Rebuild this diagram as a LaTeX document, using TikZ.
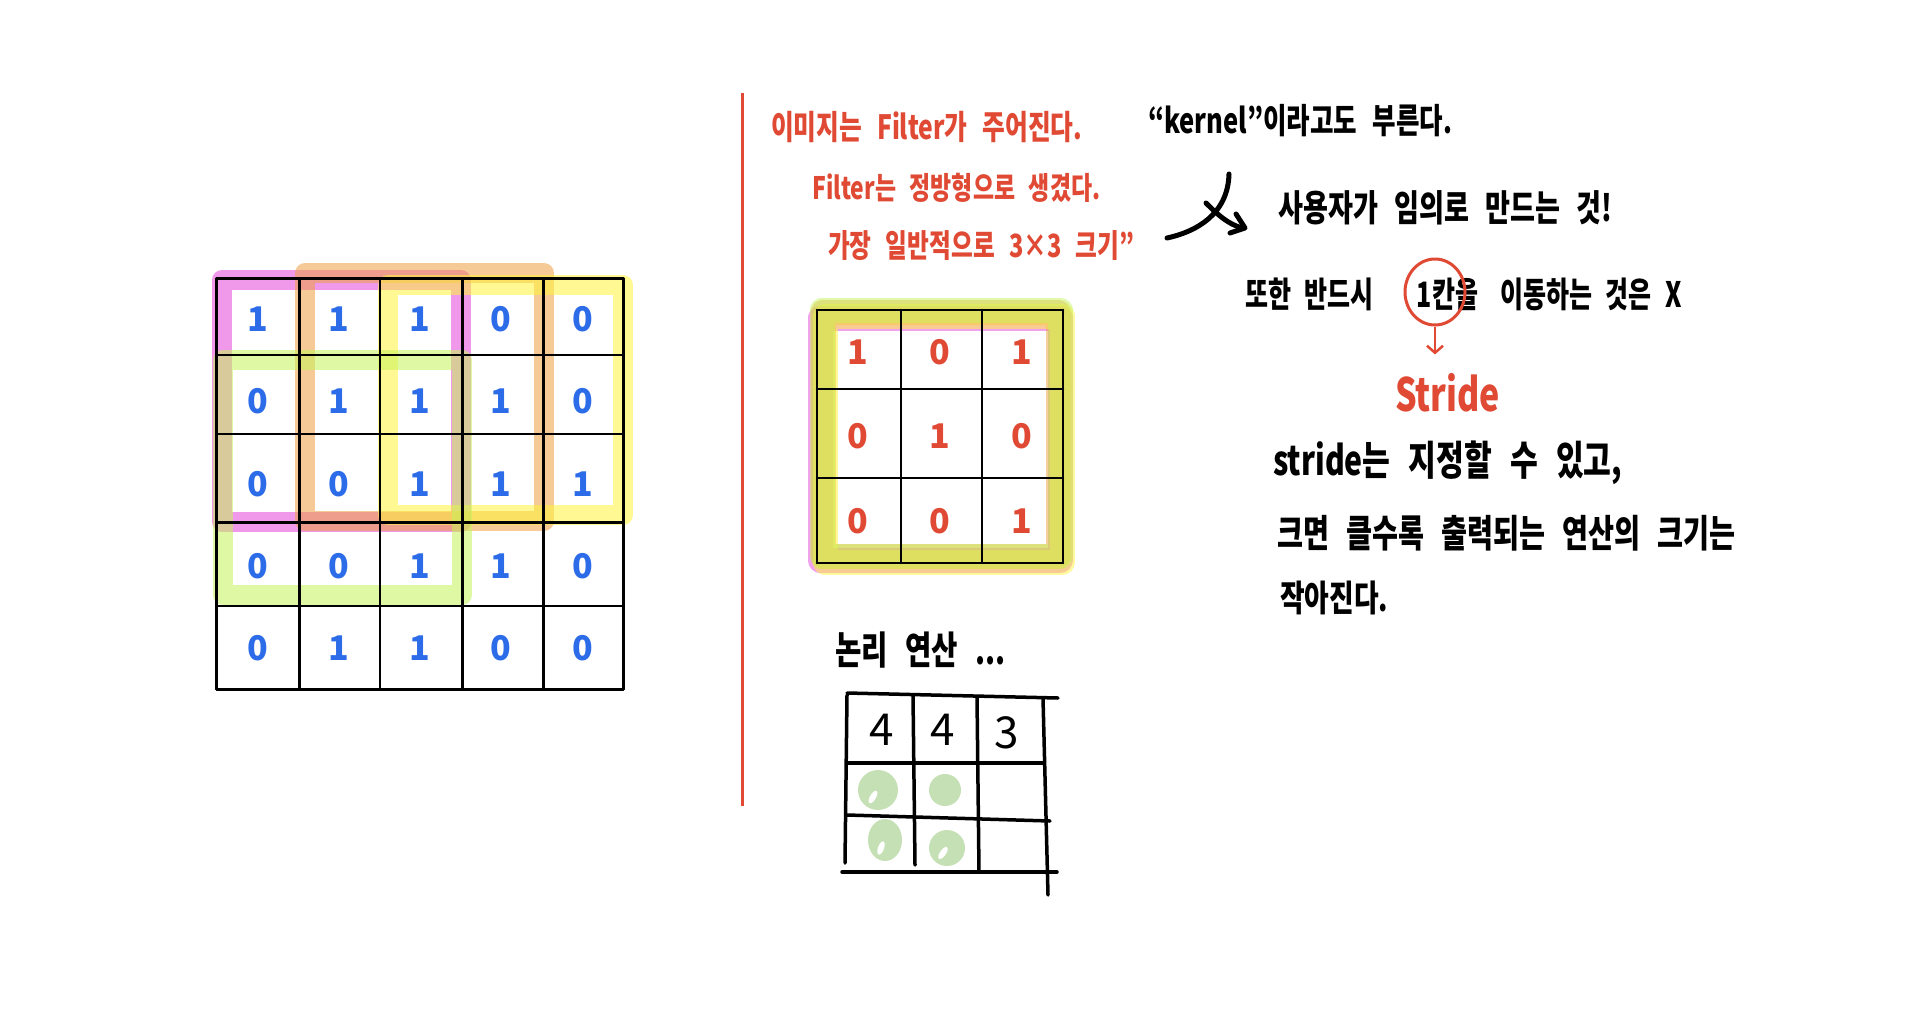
\documentclass[tikz,border=0pt]{standalone}
\usepackage{fontspec}
\usetikzlibrary{arrows.meta,shapes.geometric,calc}
\newfontfamily\kr{Noto Sans CJK KR}
\definecolor{redD}{RGB}{224,74,52}
\definecolor{blueD}{RGB}{45,108,232}
\definecolor{hlmag}{RGB}{228,70,218}
\definecolor{hlora}{RGB}{238,160,64}
\definecolor{hlyel}{RGB}{255,244,60}
\definecolor{hlgrn}{RGB}{198,244,90}
\definecolor{gblob}{RGB}{197,224,180}
\newcommand\fitw[2]{\resizebox{#1pt}{!}{\scalebox{1}[1.35]{#2}}}
\newcommand\tall[1]{\scalebox{1}[1.4]{#1}}
\begin{document}
\begin{tikzpicture}[x=1pt,y=-1pt,
  hl/.style={line width=20pt,line cap=round,line join=round,opacity=.55},
  fhl/.style={line width=25pt,line cap=round,line join=round,opacity=.5},
  gline/.style={line width=2.6pt,black,line cap=round},
  rline/.style={line width=3.5pt,black,line cap=round},
  txtbase/.style={inner sep=0pt,anchor=west,font={\kr\bfseries\spaceskip=.6em\relax}},
  redtxt/.style={txtbase,text=redD},
  blktxt/.style={txtbase,text=black},
  blkfour/.style={inner sep=0pt,text=black,font={\kr\bfseries\fontsize{25}{25}\selectfont\spaceskip=.55em\relax}},
  bdig/.style={inner sep=0pt,text=blueD,font={\kr\bfseries\fontsize{34}{34}\selectfont}},
  rdig/.style={inner sep=0pt,text=redD,font={\kr\bfseries\fontsize{34}{34}\selectfont}},
  kdig/.style={inner sep=0pt,text=black,font={\kr\fontsize{44}{44}\selectfont}},
  handpen/.style={line width=5pt,black,line cap=round,line join=round},
]
\useasboundingbox[fill=white] (0,0) rectangle (1912,1012);

% ---------- left 5x5 input grid ----------
\draw[hl,hlmag] (222,280) rectangle (461,522);
\draw[hl,hlora] (305,273) rectangle (544,521);
\draw[hl,hlyel] (388,285) rectangle (623,515);
\draw[hl,hlgrn] (223,360) rectangle (462,595);
\foreach \x in {216.7,299.3,380,462.7,543.3,623.3} \draw[gline] (\x,278.3) -- (\x,689.3);
\foreach \y in {278.3,355,434,522.7,606,689.3} \draw[gline] (216.7,\y) -- (623.3,\y);
\foreach \vals [count=\r] in {{1,1,1,0,0},{0,1,1,1,0},{0,0,1,1,1},{0,0,1,1,0},{0,1,1,0,0}} {
  \foreach \v [count=\c] in \vals {
    \node[bdig] (g\r\c) at ({216.7+(\c-0.5)*81.32},{278.3+(\r-0.5)*82.2}) {\v};
  }
}

% ---------- red divider ----------
\draw[redD,line width=3pt] (742,93) -- (742,806);

% ---------- 3x3 filter ----------
\draw[fhl,hlmag] (820,318) rectangle (1060,560);
\draw[fhl,hlora] (823,312) rectangle (1058,556);
\draw[fhl,hlyel] (825,316) rectangle (1062,562);
\draw[fhl,hlgrn] (822,310) rectangle (1060,556);
\foreach \x in {817,901,982,1063} \draw[gline] (\x,310) -- (\x,563);
\foreach \y in {310,389,478,563} \draw[gline] (817,\y) -- (1063,\y);
\foreach \vals [count=\r] in {{1,0,1},{0,1,0},{0,0,1}} {
  \foreach \v [count=\c] in \vals {
    \node[rdig] (f\r\c) at ({817+(\c-0.5)*82},{310+(\r-0.5)*84.3}) {\v};
  }
}

% ---------- result grid ----------
\draw[rline] (847,693) -- (1058,698);
\draw[rline] (847,763) -- (1043,763);
\draw[rline] (847,815) -- (1050,821);
\draw[rline] (842,872) -- (1057,872);
\draw[rline] (847,695) -- (845,863);
\draw[rline] (913,695) -- (915,865);
\draw[rline] (977,697) -- (979,872);
\draw[rline] (1043,698) -- (1048,895);
\node[kdig] (n1) at (882,730) {4};
\node[kdig] (n2) at (943,730) {4};
\node[kdig] (n3) at (1007,733) {3};
\fill[gblob] (878,790) ellipse (20 and 20);
\fill[white,rotate around={60:(873,797)}] (873,797) ellipse (7 and 3);
\fill[gblob] (945,790) ellipse (16 and 16);
\fill[gblob] (885,840) ellipse (17 and 21);
\fill[white,rotate around={70:(881,848)}] (881,848) ellipse (7 and 3);
\fill[gblob] (947,848) ellipse (18 and 18);
\fill[white,rotate around={55:(943,853)}] (943,853) ellipse (7 and 3);

% ---------- texts ----------
\node[redtxt] (t1) at (771,127) {\fitw{311}{이미지는 Filter가 주어진다.}};
\node[redtxt] (t2) at (812,188) {\fitw{288}{Filter는 정방형으로 생겼다.}};
\node[redtxt] (t3) at (828,246) {\fitw{306}{가장 일반적으로 3×3 크기”}};
\node[blktxt] (t4) at (1148,121) {\fitw{304}{“kernel”이라고도 부른다.}};
\node[blktxt] (t5) at (1278,208) {\fitw{334}{사용자가 임의로 만드는 것!}};
\node[blkfour,anchor=base west] (t6a) at (1245,307) {\tall{또한 반드시}};
\node[blkfour,anchor=base] (k1) at (1436,307) {\tall{1칸}};
\node[blkfour,anchor=base west] (t6b) at (k1.base east) {\tall{을}};
\node[blkfour,anchor=base west] (t6c) at (1500,307) {\tall{이동하는 것은 X}};
\node[redtxt] (stride) at (1395,393) {\fitw{105}{Stride}};
\node[blktxt] (t7) at (1273,463) {\fitw{349}{stride는 지정할 수 있고,}};
\node[blktxt] (t8) at (1277,533) {\fitw{458}{크면 클수록 출력되는 연산의 크기는}};
\node[blktxt] (t9) at (1280,598) {\fitw{108}{작아진다.}};
\node[blktxt] (t10) at (835,650) {\fitw{170}{논리 연산 ...}};

% ---------- marks ----------
\node[draw=redD,line width=3pt,ellipse,minimum width=60pt,minimum height=66pt,inner sep=0pt] (circ) at (1435,292) {};
\draw[redD,line width=2.5pt,-{Straight Barb[length=7pt,width=16pt]},shorten >=19pt] (circ.south) -- (circ.south |- stride.north);
\draw[handpen] (1167,238) .. controls (1195,232) and (1228,215) .. (1229,174);
\draw[handpen] (1206,203) .. controls (1218,215) and (1228,224) .. (1242,228);
\draw[handpen] (1236,214) -- (1245,228) -- (1230,233);
\end{tikzpicture}
\end{document}
